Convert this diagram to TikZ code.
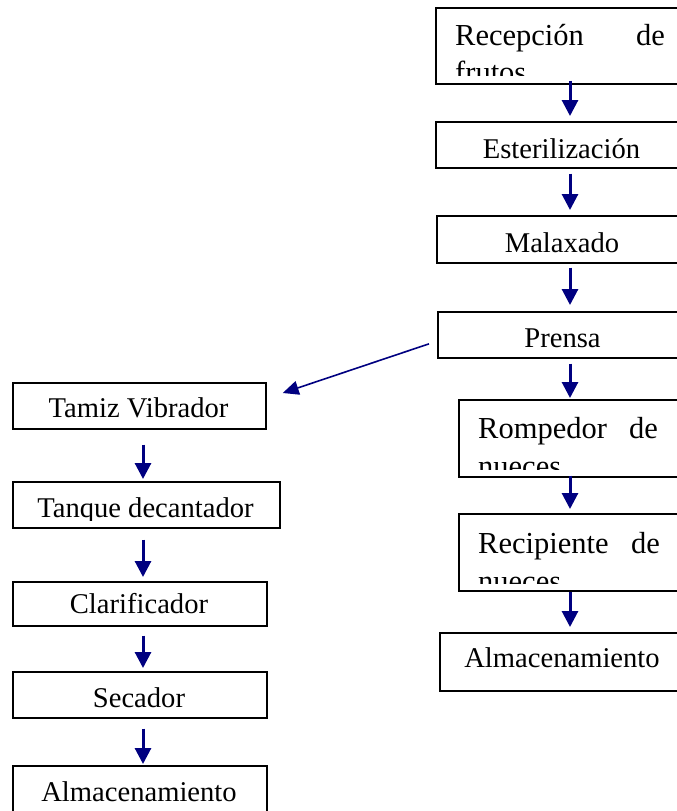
\documentclass[tikz,border=0pt]{standalone}
\usepackage{fontspec}
\setmainfont{Liberation Serif}
\usetikzlibrary{arrows.meta}
\definecolor{flow}{RGB}{0,0,128}
\tikzset{
  box/.style={draw=black, line width=1.7bp, anchor=north west, inner sep=0pt},
  lbl/.style={anchor=base, inner sep=0pt, font=\fontsize{28.6bp}{34bp}\selectfont},
  lblw/.style={anchor=base west, inner sep=0pt, font=\fontsize{30.5bp}{36bp}\selectfont},
  lble/.style={anchor=base east, inner sep=0pt, font=\fontsize{30.5bp}{36bp}\selectfont},
  arr/.style={draw=flow, line width=3bp, -{Triangle[length=16bp,width=16bp]}},
  arrthin/.style={draw=flow, line width=1.6bp, -{Triangle[length=16bp,width=14bp]}}
}
\begin{document}
\begin{tikzpicture}[x=1bp,y=-1bp]
\useasboundingbox (0,0) rectangle (677,811);
\coordinate (colR) at (570,0);
\coordinate (colL) at (143,0);

% ---------- right column ----------
\node[box, minimum width=253bp, minimum height=76bp] (rec) at (435,7) {};
\begin{scope}
  \clip (rec.north west) rectangle ([yshift=9bp]rec.south east);
  \node[lblw] (recA) at (455,46) {Recepción};
  \node[lble] (recB) at (665,46) {de};
  \node[lblw] (recC) at (455,82) {frutos};
\end{scope}

\node[box, minimum width=253bp, minimum height=46bp] (est) at (435,121) {};
\node[lbl] (estT) at (561.5,158) {Esterilización};

\node[box, minimum width=252bp, minimum height=47bp] (mal) at (436,215) {};
\node[lbl] (malT) at (562,252) {Malaxado};

\node[box, minimum width=251bp, minimum height=46bp] (pren) at (437,311) {};
\node[lbl] (prenT) at (562.5,347) {Prensa};

\node[box, minimum width=232bp, minimum height=77bp] (romp) at (458,399) {};
\begin{scope}
  \clip (romp.north west) rectangle ([yshift=8bp]romp.south east);
  \node[lblw] (rompA) at (478,438) {Rompedor};
  \node[lble] (rompB) at (658,438) {de};
  \node[lblw] (rompC) at (478,476) {nueces};
\end{scope}

\node[box, minimum width=232bp, minimum height=77bp] (reci) at (458,513) {};
\begin{scope}
  \clip (reci.north west) rectangle ([yshift=8bp]reci.south east);
  \node[lblw] (reciA) at (478,553) {Recipiente};
  \node[lble] (reciB) at (660,553) {de};
  \node[lblw] (reciC) at (478,591) {nueces};
\end{scope}

\node[box, minimum width=246bp, minimum height=58bp] (almR) at (439,632) {};
\node[lbl] (almRT) at (562,667) {Almacenamiento};

% ---------- left column ----------
\node[box, minimum width=253bp, minimum height=46bp] (tam) at (12,382) {};
\node[lbl] (tamT) at (138.5,417) {Tamiz Vibrador};

\node[box, minimum width=267bp, minimum height=46bp] (tan) at (12,481) {};
\begin{scope}
  \clip (tan.north west) rectangle ([yshift=8bp]tan.south east);
  \node[lbl] (tanT) at (145.5,517) {Tanque decantador};
\end{scope}

\node[box, minimum width=254bp, minimum height=44bp] (cla) at (12,581) {};
\node[lbl] (claT) at (139,613) {Clarificador};

\node[box, minimum width=254bp, minimum height=46bp] (sec) at (12,671) {};
\node[lbl] (secT) at (139,707) {Secador};

\node[box, minimum width=254bp, minimum height=60bp] (almL) at (12,765) {};
\node[lbl] (almLT) at (139,801) {Almacenamiento};

% ---------- connectors ----------
\draw[arr, shorten <=-4bp, shorten >=5bp] (rec.south -| colR) -- (est.north -| colR);
\draw[arr, shorten <=5bp, shorten >=5bp] (est.south -| colR) -- (mal.north -| colR);
\draw[arr, shorten <=4bp, shorten >=6bp] (mal.south -| colR) -- (pren.north -| colR);
\draw[arr, shorten <=5bp, shorten >=1bp] (pren.south -| colR) -- (romp.north -| colR);
\draw[arr, shorten <=-2bp, shorten >=4bp] (romp.south -| colR) -- (reci.north -| colR);
\draw[arr, shorten <=0bp, shorten >=5bp] (reci.south -| colR) -- (almR.north -| colR);

\draw[arrthin] ([xshift=-8bp,yshift=-9bp]pren.west) -- ([xshift=16bp,yshift=-11bp]tam.north east);

\draw[arr, shorten <=15bp, shorten >=2bp] (tam.south -| colL) -- (tan.north -| colL);
\draw[arr, shorten <=11bp, shorten >=4bp] (tan.south -| colL) -- (cla.north -| colL);
\draw[arr, shorten <=9bp, shorten >=3bp] (cla.south -| colL) -- (sec.north -| colL);
\draw[arr, shorten <=10bp, shorten >=1bp] (sec.south -| colL) -- (almL.north -| colL);
\end{tikzpicture}
\end{document}
